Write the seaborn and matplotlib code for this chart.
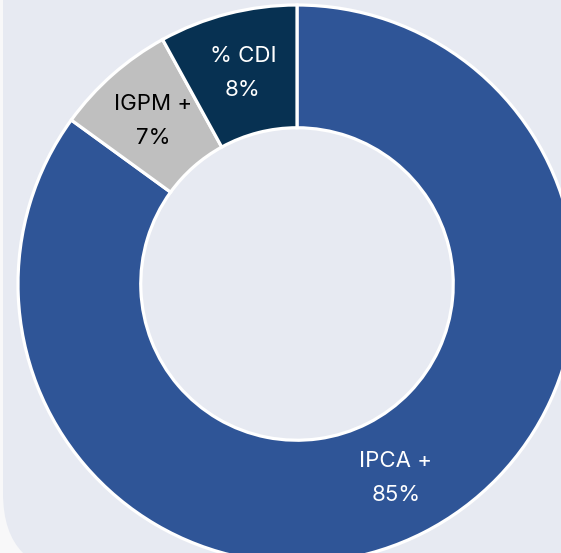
import matplotlib.pyplot as plt
import seaborn as sns
from matplotlib.patches import FancyBboxPatch

# data
labels = ['IPCA +', 'IGPM +', '% CDI']
shares = [85, 7, 8]
colors = ['#2F5597', '#BFBFBF', '#073152']
text_colors = ['white', 'black', 'white']

sns.set_theme(style='white')
plt.rcParams['font.family'] = ['Inter', 'DejaVu Sans']

W, H = 561, 553
fig = plt.figure(figsize=(W / 100, H / 100), dpi=100)
fig.patch.set_facecolor('#F8F8F9')

# background card (pixel coordinates)
bg = fig.add_axes([0, 0, 1, 1])
bg.set_xlim(0, W)
bg.set_ylim(H, 0)
bg.axis('off')
card = FancyBboxPatch((3, -200), 800, 773,
                      boxstyle='round,pad=0,rounding_size=80',
                      fc='#E7EAF2', ec='none')
bg.add_patch(card)

# donut: center (297, 284) px, radius 279 px
cx, cy, r = 297, 284, 279
ax = fig.add_axes([(cx - r) / W, (H - cy - r) / H, 2 * r / W, 2 * r / H])
ax.axis('off')


def fmt(pct):
    idx = min(range(len(shares)), key=lambda i: abs(shares[i] - pct))
    return f'{labels[idx]}\n{shares[idx]}%'


wedges, texts, autotexts = ax.pie(
    shares, colors=colors, startangle=90, counterclock=False,
    autopct=fmt, pctdistance=0.78,
    wedgeprops=dict(width=0.44, edgecolor='white', linewidth=2.3))
for t, c in zip(autotexts, text_colors):
    t.set_color(c)
    t.set_fontsize(16)
    t.set_linespacing(1.85)
ax.set_xlim(-1, 1)
ax.set_ylim(-1, 1)

fig.savefig('out.png', dpi=100, facecolor=fig.get_facecolor())
